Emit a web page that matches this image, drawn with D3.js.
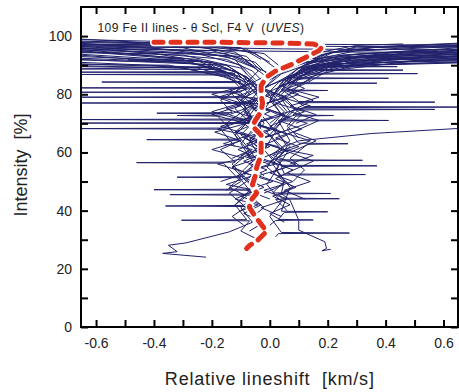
<!DOCTYPE html>
<html>
<head>
<meta charset="utf-8">
<script src="https://cdn.jsdelivr.net/npm/d3@7"></script>
<style>
  body { margin: 0; background: #fff; }
  svg { display: block; font-family: Arial, "Liberation Sans", sans-serif; }
</style>
</head>
<body>
<svg id="chart"></svg>
<script>
// Axis ticks (labels on every second x tick, every second y tick)
const xTicks = [-0.6, -0.5, -0.4, -0.3, -0.2, -0.1, 0, 0.1, 0.2, 0.3, 0.4, 0.5, 0.6];
const xTickLabels = ["-0.6", "-0.4", "-0.2", "0.0", "0.2", "0.4", "0.6"];
const yTicks = [0, 10, 20, 30, 40, 50, 60, 70, 80, 90, 100];
const yTickLabels = ["0", "20", "40", "60", "80", "100"];

// Bisectors reaching deep cores (shift km/s, intensity %)
const bisectorsCore = [
  [[-0.22,24],[-0.37,25.3],[-0.32,25.9],[-0.35,28.1],[-0.29,28.9],[-0.14,32.7],[-0.06,36],[-0.1,41],[-0.04,46],[-0.09,52],[-0.03,58],[-0.07,64],[-0.02,70],[-0.06,76],[-0.02,82],[0.03,87],[0.12,91],[0.35,93],[0.66,93.6]],
  [[0.21,26.7],[0.18,26.2],[0.196,27],[0.19,29.3],[0.1,33.3],[0.1,36.7],[0.07,43.6],[0.04,45.9],[0.05,50.4],[0.01,56],[0.06,62],[0.02,68],[0.07,74],[0.03,80],[0.08,86],[0.2,90.5],[0.66,91.5]],
  [[-0.04,30],[-0.1,33],[-0.07,36.5],[-0.305,36.7],[-0.08,36.9],[-0.12,42],[-0.07,47],[-0.11,52],[-0.06,57],[-0.1,63],[-0.05,69],[-0.09,75],[-0.04,81],[-0.08,86],[-0.2,91],[-0.66,93]],
  [[0.02,31],[0.03,32.1],[0.275,32.3],[0.04,32.5],[0.0,38],[0.04,43],[-0.01,49],[0.03,55],[-0.02,61],[0.02,67],[-0.03,73],[0.01,79],[0.05,85],[0.15,89.5],[0.66,90.8]],
  [[-0.09,35],[-0.13,38],[-0.08,41.4],[-0.36,41.6],[-0.09,41.8],[-0.14,46],[-0.08,50],[-0.13,55],[-0.07,60],[-0.12,66],[-0.06,72],[-0.1,78],[-0.05,84],[-0.1,89],[-0.3,93.5],[-0.66,94.5]],
  [[0.0,35],[0.02,36.6],[0.15,36.8],[0.03,37],[0.05,39.4],[0.2,39.6],[0.04,39.8],[0.07,48],[0.02,54],[0.06,60],[0.0,66],[0.05,72],[0.0,78],[0.04,84],[0.1,89],[0.3,92.5],[0.66,93]],
  [[-0.06,38],[-0.02,41],[-0.07,45.3],[-0.345,45.5],[-0.06,45.7],[-0.05,47],[-0.4,47.2],[-0.05,47.4],[-0.1,52],[-0.04,57],[-0.08,62],[-0.03,68],[-0.08,73],[-0.03,79],[-0.07,85],[-0.15,90],[-0.66,92]],
  [[0.06,40],[0.02,43.9],[0.24,44.1],[0.04,44.3],[0.03,45.7],[0.21,45.9],[0.01,46.1],[0.05,50],[-0.01,55],[0.04,61],[-0.01,67],[0.04,73],[0.0,79],[0.05,84],[0.12,88.5],[0.4,91],[0.66,91.8]],
  [[-0.12,42],[-0.08,45],[-0.14,48],[-0.1,51.3],[-0.32,51.5],[-0.09,51.7],[-0.13,56],[-0.07,61],[-0.12,67],[-0.06,72],[-0.11,77],[-0.05,82],[-0.1,87],[-0.25,92],[-0.66,95]],
  [[0.03,45],[0.08,48],[0.03,52.2],[0.33,52.4],[0.05,52.6],[0.04,55.2],[0.37,55.4],[0.04,55.6],[0.03,57.1],[0.32,57.3],[0.02,57.5],[0.07,62],[0.01,68],[0.06,74],[0.01,80],[0.06,85],[0.15,90],[0.4,93],[0.66,94]],
  [[-0.15,47],[-0.1,50],[-0.16,56.3],[-0.46,56.5],[-0.12,56.7],[-0.17,61],[-0.1,64.2],[-0.425,64.4],[-0.11,64.6],[-0.15,70],[-0.08,75],[-0.13,80],[-0.07,85],[-0.15,90],[-0.4,94],[-0.66,96]],
  [[0.08,50],[0.12,54],[0.07,58],[0.13,62.8],[0.27,63],[0.1,63.2],[0.06,68],[0.11,73],[0.05,78],[0.1,83],[0.18,88],[0.45,92.5],[0.66,93]],
  [[-0.02,52],[-0.07,56],[-0.02,60],[-0.08,65],[-0.03,69.9],[-0.66,70.1],[-0.04,70.3],[-0.09,74],[-0.04,79],[-0.08,84],[-0.04,88],[-0.1,93],[-0.66,96.5]],
  [[0.05,55],[0.0,59],[0.05,62],[0.1,64],[0.35,66.5],[0.66,68.3]],
  [[-0.08,58],[-0.04,62],[-0.1,66],[-0.05,71.1],[-0.66,71.3],[-0.08,71.5],[-0.12,75],[-0.07,80],[-0.12,85],[-0.2,90],[-0.66,93.5]],
  [[0.02,60],[0.07,64],[0.03,70.8],[0.41,71],[0.05,71.2],[0.09,75],[0.04,80],[0.1,85],[0.3,90],[0.66,91]],
  [[-0.12,62],[-0.17,68],[-0.66,68.2],[-0.14,68.4],[-0.18,72.5],[-0.32,72.7],[-0.15,72.9],[-0.14,73.3],[-0.39,73.5],[-0.13,73.7],[-0.17,78],[-0.1,82],[-0.15,87],[-0.3,92],[-0.66,94.8]],
  [[0.1,65],[0.06,69],[0.09,72.5],[0.22,72.7],[0.08,72.9],[0.1,74.6],[0.57,74.8],[0.1,75.0],[0.12,75.4],[0.66,75.6],[0.12,75.8],[0.1,77.1],[0.57,77.3],[0.1,77.5],[0.05,81],[0.1,86],[0.25,90.5],[0.66,92]],
  [[-0.04,66],[-0.09,70],[-0.04,76.8],[-0.66,77],[-0.06,77.2],[-0.05,78.8],[-0.66,79],[-0.08,79.2],[-0.03,82],[-0.08,86],[-0.2,91],[-0.66,93.8]],
  [[0.0,70],[0.05,74],[0.01,78],[0.04,81.1],[0.2,81.3],[0.04,81.5],[0.06,83.6],[0.37,83.8],[0.06,84],[0.08,85.3],[0.41,85.5],[0.08,85.7],[0.12,86.9],[0.51,87.1],[0.12,87.3],[0.15,88.1],[0.46,88.3],[0.15,88.5],[0.2,89.3],[0.44,89.5],[0.2,89.7],[0.66,91.2]],
  [[-0.1,72],[-0.06,76],[-0.1,80.5],[-0.66,80.7],[-0.1,80.9],[-0.08,82],[-0.66,82.2],[-0.08,82.4],[-0.1,84],[-0.58,84.2],[-0.1,84.4],[-0.12,86.6],[-0.66,86.8],[-0.12,87],[-0.13,87.4],[-0.66,87.6],[-0.15,87.8],[-0.18,88.5],[-0.66,88.7],[-0.2,89.5],[-0.25,91.6],[-0.49,91.8],[-0.3,92.2],[-0.66,95.5]]
];

// Additional wiggling bisectors filling the central cluster
const bisectorsMid = [
  [[-0.1,40],[-0.04,42],[-0.12,44],[-0.05,47],[-0.15,49],[-0.06,52],[-0.13,55],[-0.04,58],[-0.11,61],[-0.03,64],[-0.12,67],[-0.05,70],[-0.14,73],[-0.06,76],[-0.12,79],[-0.04,82],[-0.1,85],[-0.18,89],[-0.66,91]],
  [[0.04,38],[-0.03,41],[0.06,44],[-0.02,47],[0.08,50],[0.0,53],[0.09,56],[0.01,59],[0.1,62],[0.02,65],[0.11,68],[0.03,71],[0.12,74],[0.02,77],[0.1,80],[0.04,83],[0.12,86],[0.25,90],[0.66,92.6]],
  [[-0.17,50],[-0.08,53],[-0.18,56],[-0.09,58],[-0.2,61],[-0.1,64],[-0.19,67],[-0.08,70],[-0.2,73],[-0.1,76],[-0.18,79],[-0.07,82],[-0.15,86],[-0.35,90],[-0.66,90.2]],
  [[0.12,44],[0.05,47],[0.14,50],[0.06,53],[0.15,57],[0.07,60],[0.16,64],[0.08,67],[0.17,71],[0.07,74],[0.15,78],[0.06,81],[0.13,84],[0.2,88],[0.5,91.5],[0.66,91.9]],
  [[-0.06,54],[0.02,56],[-0.08,59],[0.0,62],[-0.07,65],[0.01,68],[-0.08,71],[0.0,74],[-0.07,77],[0.01,80],[-0.05,83],[0.02,86],[-0.04,89],[-0.12,93],[-0.66,95.8]],
  [[0.0,44],[-0.08,47],[0.01,50],[-0.09,53],[0.0,56],[-0.1,59],[-0.01,62],[-0.09,65],[0.0,68],[-0.1,71],[-0.02,74],[-0.1,77],[0.0,80],[-0.06,84],[0.02,88],[0.1,92],[0.66,95.2]],
  [[0.07,56],[0.15,59],[0.05,61],[0.14,64],[0.04,67],[0.13,70],[0.03,73],[0.14,76],[0.04,79],[0.12,82],[0.05,85],[0.15,89],[0.35,92],[0.66,92.8]],
  [[-0.13,58],[-0.06,61],[-0.16,63],[-0.07,66],[-0.17,69],[-0.06,72],[-0.15,75],[-0.05,78],[-0.14,81],[-0.06,84],[-0.13,87],[-0.28,91],[-0.66,92.4]],
  [[0.03,62],[-0.05,64],[0.04,67],[-0.05,70],[0.05,73],[-0.04,76],[0.06,79],[-0.03,82],[0.05,85],[0.12,89],[0.3,93],[0.66,94.9]],
  [[-0.02,46],[0.05,49],[-0.04,52],[0.06,55],[-0.03,58],[0.05,61],[-0.05,64],[0.04,67],[-0.06,70],[0.03,73],[-0.04,76],[0.05,79],[-0.02,82],[0.06,86],[0.18,90],[0.66,93.4]],
  [[-0.08,66],[-0.18,68],[-0.09,71],[-0.2,74],[-0.1,77],[-0.2,80],[-0.08,83],[-0.16,86],[-0.3,89],[-0.66,89.8]],
  [[0.09,70],[0.16,73],[0.07,76],[0.17,79],[0.06,82],[0.14,85],[0.1,88],[0.22,91],[0.66,93.9]],
  [[-0.07,33],[-0.02,36],[-0.09,39],[-0.03,42],[-0.1,45],[-0.02,48],[-0.08,51],[-0.01,54],[-0.09,57],[-0.02,60],[-0.08,63],[0.0,66],[-0.07,69],[0.01,72],[-0.06,75],[0.02,78],[-0.05,81],[0.0,85],[-0.05,89],[-0.15,94],[-0.66,97.6]],
  [[0.05,36],[0.0,39],[0.07,42],[0.01,45],[0.09,48],[0.02,51],[0.08,54],[0.0,57],[0.07,60],[-0.01,63],[0.06,66],[0.0,69],[0.07,72],[-0.01,75],[0.05,78],[0.0,81],[0.07,84],[0.14,88],[0.3,91.5],[0.66,92.4]]
];

// Shallow lines whose bisectors bend to the red wing
const bisectorsRight = [
  [[0.02,80],[0.06,85],[0.12,89],[0.3,92],[0.66,93.2]],
  [[-0.02,82],[0.04,87],[0.15,91],[0.4,93.5],[0.66,94.2]],
  [[0.05,83],[0.1,88],[0.2,92],[0.45,94.5],[0.66,95]],
  [[0.0,85],[0.08,89.5],[0.2,93],[0.5,95],[0.66,95.5]],
  [[0.08,86],[0.12,90],[0.25,93.5],[0.66,96]],
  [[0.03,87],[0.1,91],[0.22,94.5],[0.66,96.5]],
  [[0.1,88],[0.16,92],[0.3,95],[0.66,97]],
  [[0.06,89],[0.15,93],[0.28,95.8],[0.66,97.4]],
  [[0.12,90],[0.2,94],[0.35,96],[0.66,96.8]],
  [[0.08,84],[0.15,89],[0.3,92.5],[0.66,93.8]],
  [[-0.03,78],[0.03,84],[0.1,89],[0.25,92.5],[0.66,94.6]],
  [[0.15,91],[0.22,94.5],[0.4,96.5],[0.66,97.6]],
  [[0.04,81],[0.1,86],[0.2,90],[0.4,92],[0.66,92.2]],
  [[0.1,89],[0.18,93.5],[0.3,96.3],[0.66,96.2]],
  [[0.05,88],[0.12,91],[0.3,93.8],[0.58,95]],
  [[0.08,90],[0.15,94],[0.3,96.8],[0.46,97.3]]
];

// Shallow lines whose bisectors bend to the blue wing
const bisectorsLeft = [
  [[-0.02,84],[-0.06,88],[-0.15,92],[-0.4,94],[-0.66,94.3]],
  [[-0.05,85],[-0.1,90],[-0.25,94],[-0.66,95.2]],
  [[0.0,86],[-0.05,91],[-0.2,95],[-0.66,96]],
  [[-0.08,87],[-0.12,92],[-0.3,96],[-0.66,96.8]],
  [[-0.03,88],[-0.08,93],[-0.25,96.5],[-0.66,97.3]],
  [[0.02,89],[-0.05,94],[-0.2,97],[-0.66,97.8]],
  [[-0.06,90],[-0.12,94.5],[-0.35,97.5],[-0.66,98.3]],
  [[0.0,91],[-0.08,95.5],[-0.3,98],[-0.66,98.8]],
  [[-0.1,86],[-0.2,89],[-0.66,90.5]],
  [[-0.07,83],[-0.12,88],[-0.3,91],[-0.66,91.8]],
  [[-0.04,80],[-0.1,85],[-0.25,89],[-0.66,89.5]],
  [[-0.03,92],[-0.1,96],[-0.66,99]],
  [[-0.05,89],[-0.15,93],[-0.4,95.8],[-0.6,96.3]],
  [[0.03,90],[-0.02,94],[-0.2,96.2],[-0.66,97]]
];

// Near-continuum bisectors crossing the whole range
const bisectorsTop = [
  [[-0.66,97.2],[-0.3,97],[0.0,96.6],[0.3,96.4],[0.66,96.3]],
  [[-0.66,96.4],[-0.2,96],[0.05,95.6],[0.3,95.4],[0.66,95.3]],
  [[-0.66,98],[-0.25,97.6],[0.1,97.2],[0.66,96.9]],
  [[-0.66,95.6],[-0.3,95.2],[0.0,94.8],[0.3,94.5],[0.66,94.4]]
];

// Mean bisector
const meanBisector = [
  [-0.40,97.9],[-0.2,97.9],[0.05,97.6],[0.15,97.3],[0.18,96.2],[0.17,95],[0.13,93],[0.07,90],[0.02,88],
  [-0.01,86],[-0.03,83],[-0.03,80],[-0.025,77],[-0.03,74],[-0.05,71],[-0.06,69],[-0.03,66],[-0.03,62],
  [-0.03,59],[-0.045,55],[-0.05,52],[-0.06,49],[-0.045,46],[-0.07,43],[-0.07,41],[-0.05,38],[-0.02,34],
  [-0.01,33],[-0.04,30],[-0.07,28],[-0.08,27]
];

const width = 459, height = 392;
const margin = { top: 7, right: 1, bottom: 65, left: 81 };

const svg = d3.select("#chart")
  .attr("width", width)
  .attr("height", height);

const x = d3.scaleLinear().domain([-0.652, 0.65]).range([margin.left, width - margin.right]);
const y = d3.scaleLinear().domain([0, 110]).range([height - margin.bottom, margin.top]);

svg.append("clipPath").attr("id", "plot-clip")
  .append("rect")
  .attr("x", margin.left).attr("y", margin.top)
  .attr("width", width - margin.left - margin.right)
  .attr("height", height - margin.top - margin.bottom);

const line = d3.line().x(d => x(d[0])).y(d => y(d[1]));

const plot = svg.append("g").attr("clip-path", "url(#plot-clip)");

// Individual bisectors
plot.selectAll("path.bisector")
  .data([...bisectorsCore, ...bisectorsMid, ...bisectorsRight, ...bisectorsLeft, ...bisectorsTop])
  .join("path")
  .attr("class", "bisector")
  .attr("d", line)
  .attr("fill", "none")
  .attr("stroke", "#21216c")
  .attr("stroke-width", 1);

// Mean bisector: white halo, then red dashes
plot.append("path")
  .attr("d", line(meanBisector))
  .attr("fill", "none")
  .attr("stroke", "#fff")
  .attr("stroke-width", 8)
  .attr("stroke-linejoin", "round")
  .attr("stroke-linecap", "round");

plot.append("path")
  .attr("d", line(meanBisector))
  .attr("fill", "none")
  .attr("stroke", "#e0301e")
  .attr("stroke-width", 5)
  .attr("stroke-linejoin", "round")
  .attr("stroke-linecap", "round")
  .attr("stroke-dasharray", "9,8");

// Axes: ticks on all four sides, pointing inward
const tickLen = 7;
const xBottom = d3.axisBottom(x).tickValues(xTicks).tickSizeInner(-tickLen).tickSizeOuter(0)
  .tickFormat((d, i) => i % 2 === 0 ? xTickLabels[i / 2] : "");
const xTop = d3.axisTop(x).tickValues(xTicks).tickSizeInner(-tickLen).tickSizeOuter(0).tickFormat("");
const yLeft = d3.axisLeft(y).tickValues(yTicks).tickSizeInner(-tickLen).tickSizeOuter(0)
  .tickFormat((d, i) => i % 2 === 0 ? yTickLabels[i / 2] : "");
const yRight = d3.axisRight(y).tickValues(yTicks).tickSizeInner(-tickLen).tickSizeOuter(0).tickFormat("");

function styleAxis(g) {
  g.select(".domain").remove();
  g.selectAll(".tick line").attr("stroke", "#000").attr("stroke-width", 2);
  g.selectAll(".tick text").attr("fill", "#222").style("font-size", "14px");
}

svg.append("g").attr("transform", `translate(0,${y(0)})`).call(xBottom).call(styleAxis)
  .selectAll(".tick text").attr("y", 11);
svg.append("g").attr("transform", `translate(0,${margin.top})`).call(xTop).call(styleAxis);
svg.append("g").attr("transform", `translate(${margin.left},0)`).call(yLeft).call(styleAxis)
  .selectAll(".tick text").attr("x", -9);
svg.append("g").attr("transform", `translate(${width - margin.right},0)`).call(yRight).call(styleAxis);

// Frame
svg.append("rect")
  .attr("x", margin.left).attr("y", margin.top)
  .attr("width", width - margin.left - margin.right)
  .attr("height", height - margin.top - margin.bottom)
  .attr("fill", "none")
  .attr("stroke", "#000")
  .attr("stroke-width", 2);

// Annotation
const note = svg.append("text")
  .attr("x", x(-0.595)).attr("y", 32)
  .attr("fill", "#222")
  .style("font-size", "12px")
  .style("letter-spacing", "0.4px")
  .attr("xml:space", "preserve");
note.append("tspan").text("109 Fe II lines - θ Scl, F4 V  (");
note.append("tspan").style("font-style", "italic").text("UVES");
note.append("tspan").text(")");

// Axis titles
svg.append("text")
  .attr("x", x(0)).attr("y", 385)
  .attr("text-anchor", "middle")
  .attr("fill", "#222")
  .style("font-size", "18px")
  .style("letter-spacing", "0.8px")
  .attr("xml:space", "preserve")
  .text("Relative lineshift  [km/s]");

svg.append("text")
  .attr("transform", `translate(27,165) rotate(-90)`)
  .attr("text-anchor", "middle")
  .attr("fill", "#222")
  .style("font-size", "18px")
  .attr("xml:space", "preserve")
  .text("Intensity  [%]");
</script>
</body>
</html>
